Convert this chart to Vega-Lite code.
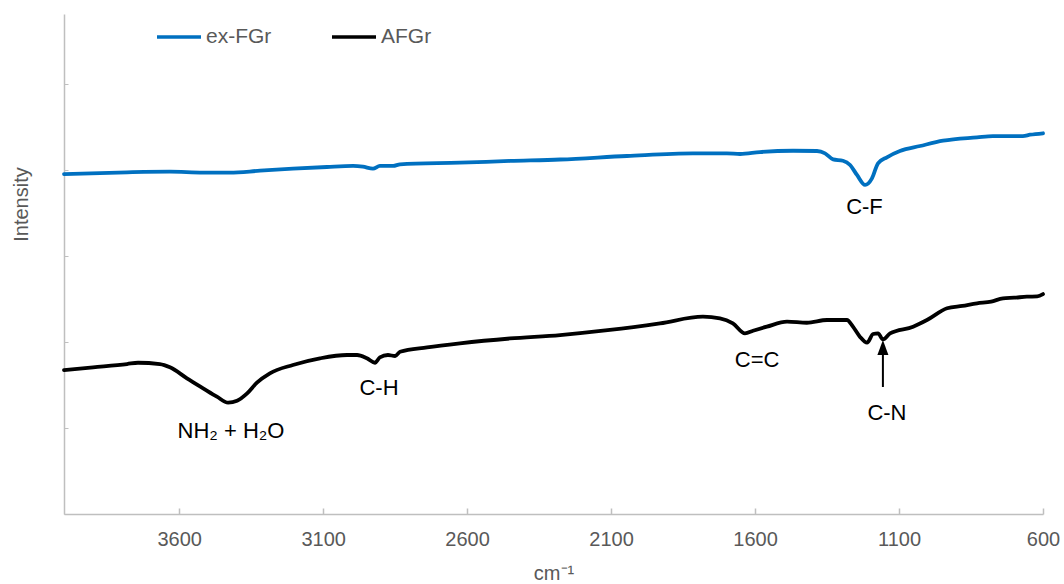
{
  "$schema": "https://vega.github.io/schema/vega-lite/v6.json",
  "width": 979,
  "height": 500,
  "autosize": {"type": "none"},
  "padding": {"left": 64, "top": 14, "right": 21, "bottom": 70},
  "background": "white",
  "config": {"view": {"stroke": null}, "font": "Liberation Sans"},
  "datasets": {
    "spectra": [
      {"series": "ex-FGr", "wn": 4000, "y": 3.953},
      {"series": "ex-FGr", "wn": 3781, "y": 3.973},
      {"series": "ex-FGr", "wn": 3632, "y": 3.980},
      {"series": "ex-FGr", "wn": 3517, "y": 3.969},
      {"series": "ex-FGr", "wn": 3424, "y": 3.969},
      {"series": "ex-FGr", "wn": 3319, "y": 3.992},
      {"series": "ex-FGr", "wn": 3205, "y": 4.015},
      {"series": "ex-FGr", "wn": 3087, "y": 4.035},
      {"series": "ex-FGr", "wn": 2996, "y": 4.047},
      {"series": "ex-FGr", "wn": 2962, "y": 4.038},
      {"series": "ex-FGr", "wn": 2927, "y": 4.015},
      {"series": "ex-FGr", "wn": 2903, "y": 4.047},
      {"series": "ex-FGr", "wn": 2857, "y": 4.047},
      {"series": "ex-FGr", "wn": 2833, "y": 4.066},
      {"series": "ex-FGr", "wn": 2625, "y": 4.085},
      {"series": "ex-FGr", "wn": 2451, "y": 4.105},
      {"series": "ex-FGr", "wn": 2277, "y": 4.122},
      {"series": "ex-FGr", "wn": 2045, "y": 4.163},
      {"series": "ex-FGr", "wn": 1816, "y": 4.194},
      {"series": "ex-FGr", "wn": 1698, "y": 4.194},
      {"series": "ex-FGr", "wn": 1652, "y": 4.186},
      {"series": "ex-FGr", "wn": 1583, "y": 4.209},
      {"series": "ex-FGr", "wn": 1468, "y": 4.224},
      {"series": "ex-FGr", "wn": 1385, "y": 4.221},
      {"series": "ex-FGr", "wn": 1357, "y": 4.194},
      {"series": "ex-FGr", "wn": 1329, "y": 4.124},
      {"series": "ex-FGr", "wn": 1295, "y": 4.108},
      {"series": "ex-FGr", "wn": 1270, "y": 4.058},
      {"series": "ex-FGr", "wn": 1246, "y": 3.942},
      {"series": "ex-FGr", "wn": 1218, "y": 3.826},
      {"series": "ex-FGr", "wn": 1194, "y": 3.903},
      {"series": "ex-FGr", "wn": 1173, "y": 4.078},
      {"series": "ex-FGr", "wn": 1142, "y": 4.148},
      {"series": "ex-FGr", "wn": 1097, "y": 4.221},
      {"series": "ex-FGr", "wn": 1027, "y": 4.279},
      {"series": "ex-FGr", "wn": 947, "y": 4.341},
      {"series": "ex-FGr", "wn": 829, "y": 4.380},
      {"series": "ex-FGr", "wn": 774, "y": 4.395},
      {"series": "ex-FGr", "wn": 670, "y": 4.395},
      {"series": "ex-FGr", "wn": 645, "y": 4.410},
      {"series": "ex-FGr", "wn": 600, "y": 4.427},
      {"series": "AFGr", "wn": 4000, "y": 1.674},
      {"series": "AFGr", "wn": 3899, "y": 1.706},
      {"series": "AFGr", "wn": 3781, "y": 1.744},
      {"series": "AFGr", "wn": 3743, "y": 1.759},
      {"series": "AFGr", "wn": 3667, "y": 1.744},
      {"series": "AFGr", "wn": 3632, "y": 1.706},
      {"series": "AFGr", "wn": 3573, "y": 1.578},
      {"series": "AFGr", "wn": 3517, "y": 1.462},
      {"series": "AFGr", "wn": 3469, "y": 1.364},
      {"series": "AFGr", "wn": 3430, "y": 1.294},
      {"series": "AFGr", "wn": 3399, "y": 1.317},
      {"series": "AFGr", "wn": 3364, "y": 1.403},
      {"series": "AFGr", "wn": 3330, "y": 1.527},
      {"series": "AFGr", "wn": 3285, "y": 1.636},
      {"series": "AFGr", "wn": 3205, "y": 1.733},
      {"series": "AFGr", "wn": 3111, "y": 1.810},
      {"series": "AFGr", "wn": 3017, "y": 1.849},
      {"series": "AFGr", "wn": 2982, "y": 1.849},
      {"series": "AFGr", "wn": 2948, "y": 1.810},
      {"series": "AFGr", "wn": 2920, "y": 1.759},
      {"series": "AFGr", "wn": 2903, "y": 1.822},
      {"series": "AFGr", "wn": 2875, "y": 1.849},
      {"series": "AFGr", "wn": 2850, "y": 1.837},
      {"series": "AFGr", "wn": 2833, "y": 1.887},
      {"series": "AFGr", "wn": 2739, "y": 1.938},
      {"series": "AFGr", "wn": 2625, "y": 1.985},
      {"series": "AFGr", "wn": 2451, "y": 2.041},
      {"series": "AFGr", "wn": 2277, "y": 2.081},
      {"series": "AFGr", "wn": 2104, "y": 2.140},
      {"series": "AFGr", "wn": 1930, "y": 2.217},
      {"series": "AFGr", "wn": 1781, "y": 2.294},
      {"series": "AFGr", "wn": 1722, "y": 2.276},
      {"series": "AFGr", "wn": 1677, "y": 2.217},
      {"series": "AFGr", "wn": 1635, "y": 2.101},
      {"series": "AFGr", "wn": 1607, "y": 2.131},
      {"series": "AFGr", "wn": 1559, "y": 2.178},
      {"series": "AFGr", "wn": 1489, "y": 2.236},
      {"series": "AFGr", "wn": 1420, "y": 2.224},
      {"series": "AFGr", "wn": 1350, "y": 2.256},
      {"series": "AFGr", "wn": 1281, "y": 2.256},
      {"series": "AFGr", "wn": 1260, "y": 2.178},
      {"series": "AFGr", "wn": 1236, "y": 2.062},
      {"series": "AFGr", "wn": 1211, "y": 1.992},
      {"series": "AFGr", "wn": 1190, "y": 2.093},
      {"series": "AFGr", "wn": 1173, "y": 2.101},
      {"series": "AFGr", "wn": 1156, "y": 2.031},
      {"series": "AFGr", "wn": 1131, "y": 2.101},
      {"series": "AFGr", "wn": 1051, "y": 2.178},
      {"series": "AFGr", "wn": 1003, "y": 2.256},
      {"series": "AFGr", "wn": 933, "y": 2.392},
      {"series": "AFGr", "wn": 880, "y": 2.420},
      {"series": "AFGr", "wn": 829, "y": 2.450},
      {"series": "AFGr", "wn": 780, "y": 2.470},
      {"series": "AFGr", "wn": 739, "y": 2.508},
      {"series": "AFGr", "wn": 700, "y": 2.515},
      {"series": "AFGr", "wn": 656, "y": 2.527},
      {"series": "AFGr", "wn": 620, "y": 2.530},
      {"series": "AFGr", "wn": 600, "y": 2.557}
    ],
    "labels": [
      {"label": "C-F", "wn": 1220, "y": 3.488},
      {"label": "NH₂ + H₂O", "wn": 3420, "y": 0.884},
      {"label": "C-H", "wn": 2906, "y": 1.384},
      {"label": "C=C", "wn": 1593, "y": 1.709},
      {"label": "C-N", "wn": 1142, "y": 1.093}
    ],
    "arrow": [
      {"wn": 1156, "y": 1.477, "y2": 1.88}
    ],
    "arrowhead": [
      {"wn": 1156, "y": 1.936}
    ]
  },
  "encoding": {
    "x": {
      "field": "wn",
      "type": "quantitative",
      "scale": {"domain": [600, 4000], "reverse": true, "nice": false, "zero": false},
      "axis": {
        "title": "cm⁻¹",
        "values": [3600, 3100, 2600, 2100, 1600, 1100, 600],
        "format": "d",
        "grid": false,
        "domainColor": "#bfbfbf",
        "domainWidth": 1.5,
        "tickColor": "#bfbfbf",
        "tickWidth": 1.5,
        "tickSize": -6,
        "labelFontSize": 20,
        "labelColor": "#595959",
        "labelPadding": 21,
        "labelFlush": false,
        "titleFontSize": 20,
        "titleFontWeight": "normal",
        "titleColor": "#595959",
        "titleBaseline": "alphabetic",
        "titleY": 65
      }
    },
    "y": {
      "field": "y",
      "type": "quantitative",
      "scale": {"domain": [0, 5.814], "nice": false, "zero": false},
      "axis": {
        "title": "Intensity",
        "values": [0, 1, 2, 3, 4, 5],
        "labels": false,
        "grid": false,
        "domainColor": "#bfbfbf",
        "domainWidth": 1.5,
        "tickColor": "#bfbfbf",
        "tickWidth": 1,
        "tickSize": -4,
        "titleFontSize": 20,
        "titleFontWeight": "normal",
        "titleColor": "#595959",
        "titleAngle": -90,
        "titleAlign": "center",
        "titleBaseline": "alphabetic",
        "titleX": -37,
        "titleY": 190
      }
    }
  },
  "layer": [
    {
      "data": {"name": "spectra"},
      "mark": {"type": "line", "strokeWidth": 3.8, "strokeJoin": "round", "strokeCap": "round", "interpolate": "monotone"},
      "encoding": {
        "color": {
          "field": "series",
          "type": "nominal",
          "scale": {"domain": ["ex-FGr", "AFGr"], "range": ["#0070C0", "#000000"]},
          "legend": {
            "title": null,
            "orient": "none",
            "direction": "horizontal",
            "legendX": 91,
            "legendY": -1,
            "symbolType": "stroke",
            "symbolSize": 1936,
            "symbolStrokeWidth": 3.5,
            "labelFontSize": 21,
            "labelColor": "#595959",
            "labelOffset": 3,
            "columnPadding": 53,
            "padding": 0
          }
        }
      }
    },
    {
      "data": {"name": "labels"},
      "mark": {"type": "text", "fontSize": 22, "baseline": "alphabetic", "align": "center", "color": "#000000"},
      "encoding": {"text": {"field": "label", "type": "nominal"}}
    },
    {
      "data": {"name": "arrow"},
      "mark": {"type": "rule", "strokeWidth": 2, "color": "#000000"},
      "encoding": {"y2": {"field": "y2"}}
    },
    {
      "data": {"name": "arrowhead"},
      "mark": {"type": "point", "shape": "M0,-1L0.733,1L-0.733,1Z", "size": 225, "filled": true, "color": "#000000", "opacity": 1, "strokeWidth": 0}
    }
  ]
}
